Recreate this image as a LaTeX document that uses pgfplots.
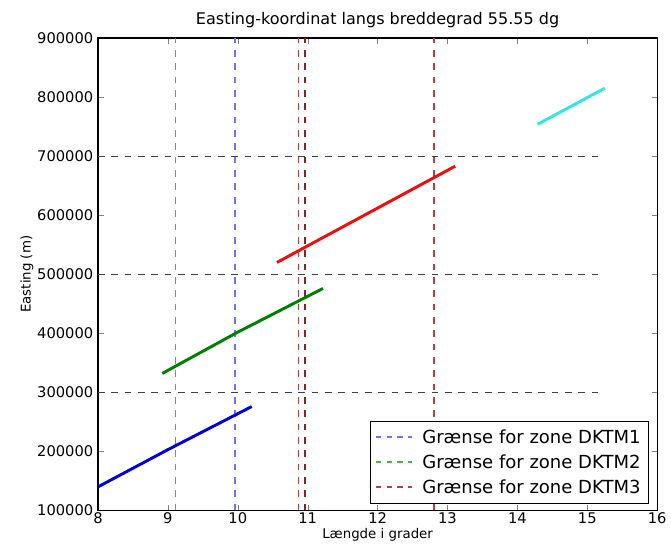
\documentclass[border=0pt]{standalone}
\usepackage{pgfplots}
\pgfplotsset{compat=1.18}
\usepackage{fontspec}
\setmainfont{DejaVu Sans}
\definecolor{mplblue}{rgb}{0,0,0.85}
\definecolor{mplgreen}{rgb}{0,0.5,0}
\definecolor{mplred}{rgb}{0.95,0.05,0.05}
\definecolor{mplcyan}{rgb}{0.2,0.9,0.9}
\definecolor{zoneblue}{rgb}{0.45,0.45,0.95}
\definecolor{zonegreen}{rgb}{0.3,0.7,0.3}
\definecolor{zonered}{rgb}{0.72,0.25,0.25}
\definecolor{zonered2}{rgb}{0.5,0.15,0.15}
\begin{document}
\begin{tikzpicture}
\begin{axis}[
    scale only axis,
    width=419pt, height=354pt,
    xmin=8, xmax=16, ymin=100000, ymax=900000,
    xtick={8,...,16},
    ytick={100000,200000,...,900000},
    scaled y ticks=false,
    yticklabel style={/pgf/number format/fixed, /pgf/number format/1000 sep={}},
    /pgf/number format/assume math mode=true,
    tick label style={font=\fontsize{11}{13}\selectfont},
    xticklabel style={yshift=2pt},
    tick align=inside,
    title={Easting-koordinat langs breddegrad 55.55 dg},
    title style={font=\fontsize{12}{14}\selectfont, yshift=-2pt},
    xlabel={Længde i grader},
    ylabel={Easting (m)},
    label style={font=\fontsize{10}{12}\selectfont},
    xlabel style={yshift=3pt},
    ylabel style={yshift=-4pt},
    axis line style={line width=0.8pt},
    legend pos=south east,
    legend style={font=\fontsize{13.5}{15}\selectfont,
      row sep=3pt, inner sep=4pt, at={(0.985,0.015)},
      /tikz/every odd column/.append style={column sep=5pt}},
    legend cell align=left,
    legend image code/.code={\draw[#1, line width=1.3pt, dash pattern=on 4pt off 4pt] (0cm,0cm) -- (0.95cm,0cm);},
]
% horizontal dashed lines
\addplot[draw=black!75, line width=0.8pt, dash pattern=on 5pt off 5pt, forget plot] coordinates {(8,300000) (15.2,300000)};
\addplot[draw=black!75, line width=0.8pt, dash pattern=on 5pt off 5pt, forget plot] coordinates {(8,500000) (15.2,500000)};
\addplot[draw=black!75, line width=0.8pt, dash pattern=on 5pt off 5pt, forget plot] coordinates {(8,700000) (15.2,700000)};
% zone borders
\addplot[draw=zoneblue, line width=1.1pt, dash pattern=on 5pt off 5pt] coordinates {(9.96,100000) (9.96,900000)};
\addlegendentry{Grænse for zone DKTM1}
\addplot[draw=zonegreen, line width=1.1pt, dash pattern=on 5pt off 5pt] coordinates {(9.11,100000) (9.11,900000)};
\addlegendentry{Grænse for zone DKTM2}
\addplot[draw=zonered, line width=1.1pt, dash pattern=on 5pt off 5pt] coordinates {(10.87,100000) (10.87,900000)};
\addlegendentry{Grænse for zone DKTM3}
\addplot[draw=zonered2, line width=1.1pt, dash pattern=on 5pt off 5pt, forget plot] coordinates {(10.96,100000) (10.96,900000)};
\addplot[draw=zonered, line width=1.1pt, dash pattern=on 5pt off 5pt, forget plot] coordinates {(12.81,100000) (12.81,900000)};
% easting curves
\addplot[draw=mplblue, line width=2.2pt, forget plot] coordinates {(8,140000) (9,203000) (10.2,276000)};
\addplot[draw=mplgreen, line width=2.2pt, forget plot] coordinates {(8.92,332000) (10,402000) (11.22,476000)};
\addplot[draw=mplred, line width=2.2pt, forget plot] coordinates {(10.56,520000) (13.11,683000)};
\addplot[draw=mplcyan, line width=2.2pt, forget plot] coordinates {(14.29,754000) (15.25,815000)};
\end{axis}
\path ([xshift=-12pt,yshift=-1pt]current bounding box.south west) rectangle ([yshift=6pt]current bounding box.north east);
\end{tikzpicture}
\end{document}
